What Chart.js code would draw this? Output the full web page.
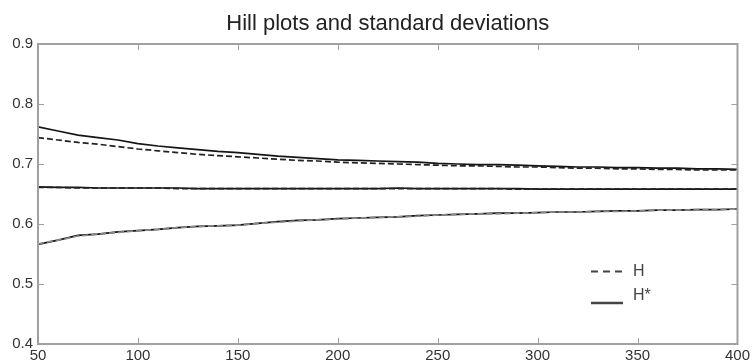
<!DOCTYPE html>
<html><head><meta charset="utf-8">
<script src="https://cdn.jsdelivr.net/npm/chart.js@4/dist/chart.umd.min.js"></script>
<style>html,body{margin:0;padding:0;background:#fff}#wrap{width:753px;height:364px}</style>
</head><body><div id="wrap"><canvas id="c" width="753" height="364"></canvas></div>
<script>
const xValues = [50,60,70,80,90,100,110,120,130,140,150,160,170,180,190,200,210,220,230,240,250,260,270,280,290,300,310,320,330,340,350,360,370,380,390,400];
const hUpper = [0.744,0.740,0.736,0.733,0.729,0.725,0.722,0.719,0.716,0.714,0.712,0.710,0.708,0.706,0.705,0.703,0.702,0.701,0.700,0.699,0.698,0.697,0.697,0.696,0.695,0.695,0.694,0.693,0.693,0.692,0.692,0.691,0.691,0.690,0.690,0.690];
const hStarUpper = [0.762,0.755,0.748,0.744,0.740,0.734,0.730,0.727,0.724,0.721,0.719,0.716,0.713,0.711,0.709,0.707,0.706,0.705,0.704,0.703,0.701,0.700,0.699,0.699,0.698,0.697,0.696,0.695,0.695,0.694,0.694,0.693,0.693,0.692,0.692,0.691];
const hMiddle = [0.661,0.661,0.660,0.660,0.660,0.660,0.660,0.659,0.659,0.659,0.659,0.659,0.659,0.659,0.659,0.659,0.659,0.659,0.659,0.659,0.659,0.659,0.659,0.659,0.658,0.658,0.658,0.658,0.658,0.658,0.658,0.658,0.658,0.658,0.658,0.658];
const hStarMiddle = [0.662,0.661,0.661,0.660,0.660,0.660,0.660,0.660,0.659,0.659,0.659,0.659,0.659,0.659,0.659,0.659,0.659,0.659,0.660,0.659,0.659,0.659,0.659,0.659,0.659,0.658,0.658,0.658,0.658,0.658,0.658,0.658,0.658,0.658,0.658,0.658];
const hLower = [0.567,0.573,0.580,0.583,0.586,0.589,0.591,0.594,0.596,0.597,0.598,0.601,0.603,0.605,0.607,0.608,0.610,0.611,0.612,0.613,0.615,0.616,0.617,0.617,0.618,0.619,0.620,0.620,0.621,0.621,0.622,0.623,0.623,0.624,0.624,0.625];
const hStarLower = [0.566,0.573,0.581,0.583,0.587,0.589,0.591,0.594,0.596,0.597,0.598,0.601,0.604,0.606,0.607,0.609,0.610,0.611,0.612,0.614,0.615,0.616,0.617,0.618,0.618,0.619,0.620,0.620,0.621,0.622,0.622,0.623,0.623,0.624,0.624,0.625];
const xTicks = [50,100,150,200,250,300,350,400];
const yTicks = [0.4,0.5,0.6,0.7,0.8,0.9];
const titleText = 'Hill plots and standard deviations';
const legendLabels = ['H','H*'];

const FONT = '"Liberation Sans", Arial, sans-serif';
const pts = arr => arr.map((v,i)=>({x:xValues[i], y:v}));
const dashedStyle = {borderColor:'#222', borderWidth:1.7, borderDash:[6,3], pointRadius:0, fill:false, tension:0};
const solidStyle = {borderColor:'#151515', borderWidth:1.7, pointRadius:0, fill:false, tension:0};

const axisPlugin = {
  id:'matlabAxes',
  afterDatasetsDraw(chart){
    const {ctx, chartArea:a, scales:{x,y}} = chart;
    ctx.save();
    // title centred over the axes box
    ctx.fillStyle = '#222';
    ctx.font = '22px ' + FONT;
    ctx.textAlign = 'center';
    ctx.textBaseline = 'alphabetic';
    ctx.fillText(titleText, (a.left+a.right)/2, 30);
    ctx.strokeStyle = '#a0a0a0';
    ctx.lineWidth = 2;
    ctx.strokeRect(a.left, a.top, a.right-a.left, a.bottom-a.top);
    ctx.lineWidth = 1;
    ctx.beginPath();
    xTicks.forEach(t=>{const px=Math.round(x.getPixelForValue(t))+0.5;
      ctx.moveTo(px,a.bottom);ctx.lineTo(px,a.bottom-6);
      ctx.moveTo(px,a.top);ctx.lineTo(px,a.top+6);});
    yTicks.forEach(t=>{const py=Math.round(y.getPixelForValue(t))+0.5;
      ctx.moveTo(a.left,py);ctx.lineTo(a.left+6,py);
      ctx.moveTo(a.right,py);ctx.lineTo(a.right-6,py);});
    ctx.stroke();
    // legend
    const lx = 591, lx2 = 623;
    ctx.strokeStyle = '#444';
    ctx.lineWidth = 2;
    ctx.setLineDash([7,5]);
    ctx.beginPath(); ctx.moveTo(lx,271.5); ctx.lineTo(lx2,271.5); ctx.stroke();
    ctx.setLineDash([]);
    ctx.lineWidth = 2.5;
    ctx.beginPath(); ctx.moveTo(lx,303); ctx.lineTo(lx2,303); ctx.stroke();
    ctx.fillStyle = '#444';
    ctx.font = '16px ' + FONT;
    ctx.textBaseline = 'middle';
    ctx.textAlign = 'left';
    ctx.fillText(legendLabels[0], 633, 272);
    ctx.fillText(legendLabels[1], 633, 296);
    ctx.restore();
  }
};

new Chart(document.getElementById('c'), {
  type:'line',
  data:{datasets:[
    Object.assign({label:'H upper', data:pts(hUpper)}, dashedStyle),
    Object.assign({label:'H* upper', data:pts(hStarUpper)}, solidStyle),
    Object.assign({label:'H', data:pts(hMiddle)}, dashedStyle),
    Object.assign({label:'H*', data:pts(hStarMiddle)}, solidStyle),
    Object.assign({label:'H lower', data:pts(hLower)}, dashedStyle, {borderColor:'#888'}),
    Object.assign({label:'H* lower', data:pts(hStarLower)}, solidStyle)
  ]},
  options:{
    responsive:false, animation:false,
    layout:{padding:{left:0,right:13,top:44,bottom:0}},
    plugins:{
      legend:{display:false}, tooltip:{enabled:false}, title:{display:false}
    },
    scales:{
      x:{type:'linear', min:50, max:400,
        afterBuildTicks(s){s.ticks = xTicks.map(v=>({value:v}));},
        afterFit(s){s.height = 20;},
        grid:{display:false, drawTicks:false}, border:{display:false},
        ticks:{padding:3, color:'#333', maxRotation:0, font:{family:FONT, size:15}}},
      y:{type:'linear', min:0.4, max:0.9,
        afterBuildTicks(s){s.ticks = yTicks.map(v=>({value:v}));},
        afterFit(s){s.width = 38;},
        grid:{display:false, drawTicks:false}, border:{display:false},
        ticks:{padding:5, color:'#333', font:{family:FONT, size:15},
          callback:v=>v.toFixed(1)}}
    }
  },
  plugins:[axisPlugin]
});
</script></body></html>
